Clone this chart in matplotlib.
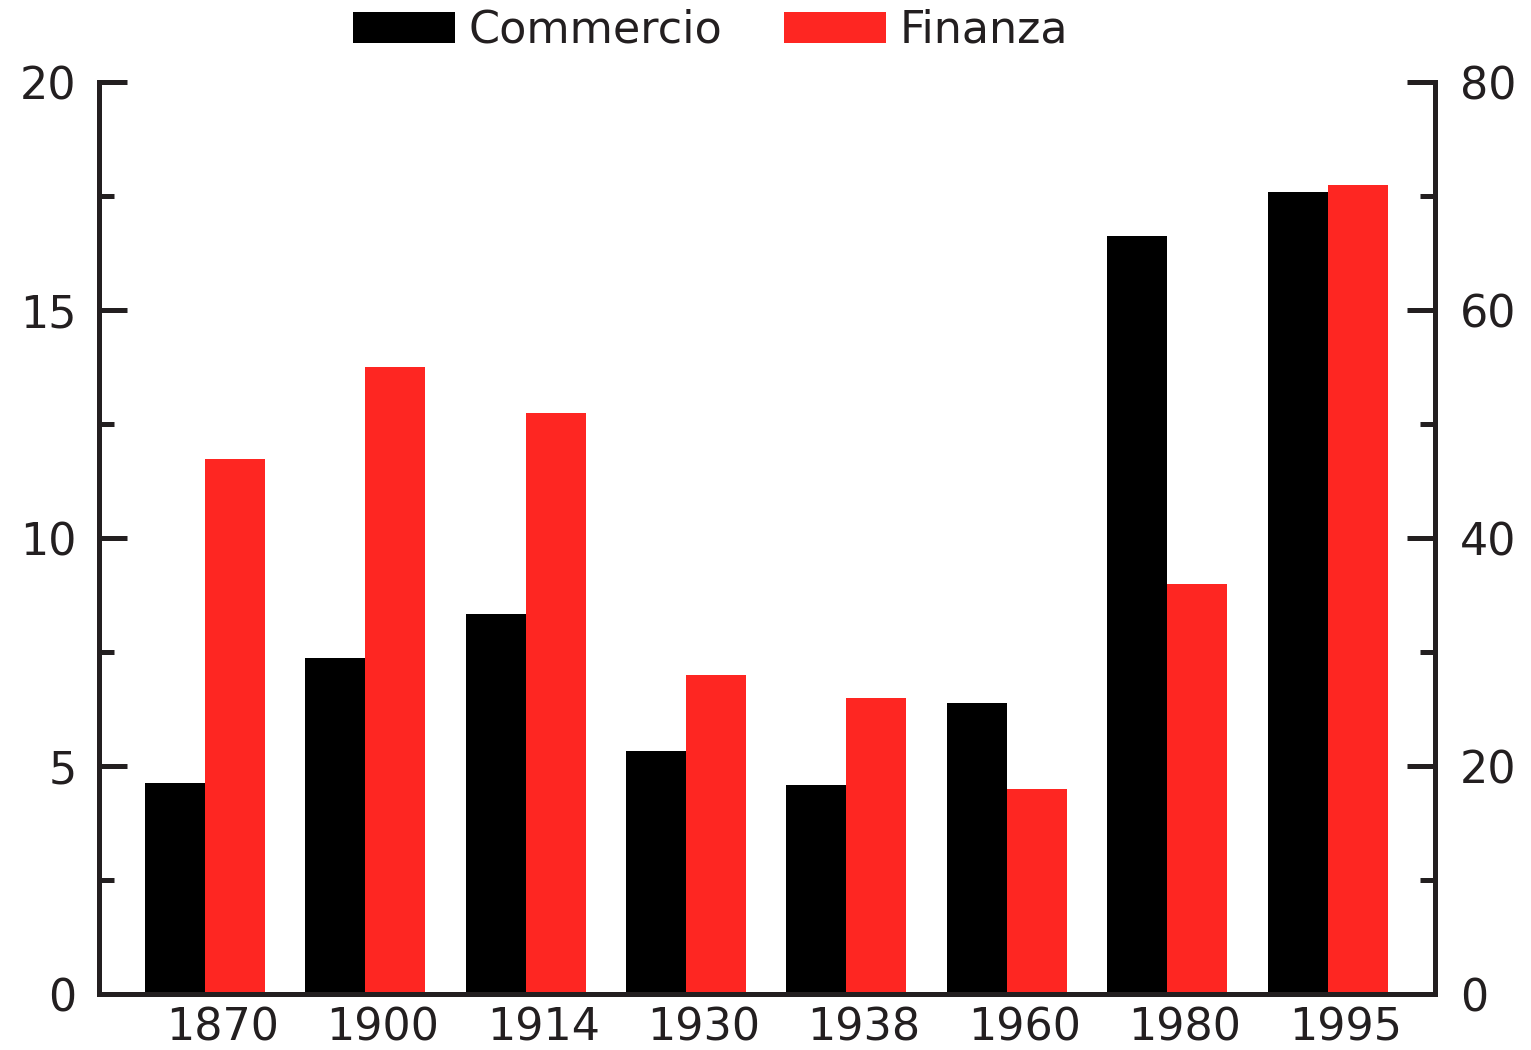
import numpy as np
import matplotlib
matplotlib.use("Agg")
import matplotlib.pyplot as plt
from matplotlib.ticker import MultipleLocator

years = ["1870", "1900", "1914", "1930", "1938", "1960", "1980", "1995"]
commercio = [4.63, 7.37, 8.33, 5.33, 4.58, 6.38, 16.62, 17.59]
finanza = [46.9, 55.0, 51.0, 28.0, 26.0, 18.0, 36.0, 71.0]

ink = "#231f20"
red = "#fe2622"
plt.rcParams["font.family"] = ["DejaVu Sans"]
plt.rcParams["font.size"] = 32

fig = plt.figure(figsize=(15.31, 10.5), dpi=100)
ax = fig.add_axes([0.0647, 0.0533, 0.8726, 0.8686])
ax2 = ax.twinx()

x = np.arange(len(years))
w = 0.374
b1 = ax.bar(x - w / 2, commercio, w, color="black", label="Commercio")
b2 = ax2.bar(x + w / 2, finanza, w, color=red, label="Finanza")

ax.set_xlim(-0.66, 7.67)
ax.set_ylim(0, 20)
ax2.set_ylim(0, 80)

ax.yaxis.set_major_locator(MultipleLocator(5))
ax.yaxis.set_minor_locator(MultipleLocator(2.5))
ax2.yaxis.set_major_locator(MultipleLocator(20))
ax2.yaxis.set_minor_locator(MultipleLocator(10))

for a in (ax, ax2):
    a.spines["top"].set_visible(False)
    for s in ("left", "right", "bottom"):
        a.spines[s].set_linewidth(3.6)
        a.spines[s].set_color(ink)

ax.tick_params(axis="y", which="major", direction="in", length=20, width=3.6,
               color=ink, labelcolor=ink, pad=16)
ax.tick_params(axis="y", which="minor", direction="in", length=11, width=3.6, color=ink)
ax2.tick_params(axis="y", which="major", direction="in", length=20, width=3.6,
                color=ink, labelcolor=ink, pad=18)
ax2.tick_params(axis="y", which="minor", direction="in", length=11, width=3.6, color=ink)

ax.set_xticks(x + 0.11, years)
ax.tick_params(axis="x", length=0, pad=9, labelcolor=ink)

fig.legend([b1, b2], ["Commercio", "Finanza"], loc="center", ncol=2,
           bbox_to_anchor=(0.464, 0.971), frameon=False,
           handlelength=2.3, handleheight=0.72, handletextpad=0.3,
           columnspacing=1.4, labelcolor=ink)

fig.savefig("out.png", dpi=100)
